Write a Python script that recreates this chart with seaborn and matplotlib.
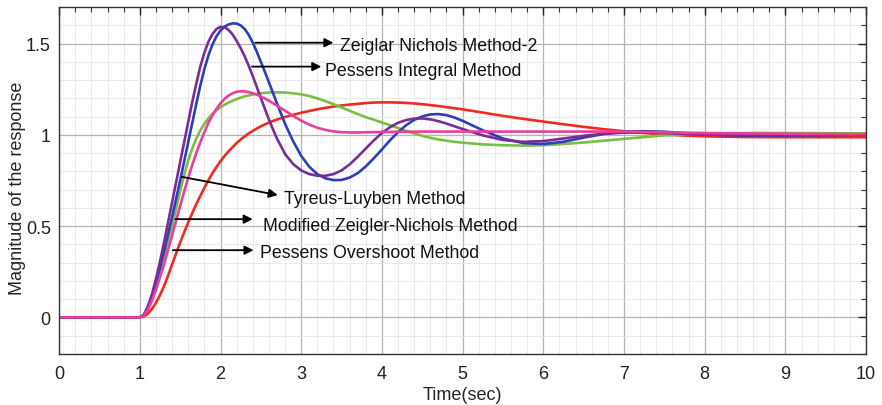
import numpy as np
import pandas as pd
import matplotlib
matplotlib.use("Agg")
import matplotlib.pyplot as plt
from matplotlib.ticker import MultipleLocator, FuncFormatter
import seaborn as sns

# Sample times (s)
time = [0.0, 1.0, 1.05, 1.1, 1.15, 1.2, 1.25, 1.3, 1.35, 1.4, 1.45, 1.5, 1.55, 1.6, 1.65,
        1.7, 1.75, 1.8, 1.85, 1.9, 1.95, 2.0, 2.05, 2.1, 2.15, 2.2, 2.25, 2.3, 2.35,
        2.4, 2.45, 2.5, 2.55, 2.6, 2.65, 2.7,
        2.8, 2.9, 3.0, 3.1, 3.2, 3.3, 3.4, 3.5, 3.6, 3.7, 3.8, 3.9, 4.0, 4.1, 4.2,
        4.3, 4.4, 4.5, 4.6, 4.7, 4.8, 4.9, 5.0,
        5.25, 5.5, 5.75, 6.0, 6.25, 6.5, 6.75, 7.0, 7.25, 7.5, 7.75, 8.0,
        8.5, 9.0, 9.5, 10.0]

# Step responses of each tuning
zn2 = [0, 0, 0.012, 0.05, 0.11, 0.19, 0.27, 0.36, 0.455, 0.55, 0.65, 0.75, 0.855, 0.96, 1.065,
       1.17, 1.27, 1.36, 1.435, 1.495, 1.54, 1.572, 1.593, 1.605, 1.611, 1.61, 1.6, 1.58, 1.548,
       1.505, 1.455, 1.40, 1.345, 1.288, 1.23, 1.172,
       1.06, 0.965, 0.885, 0.825, 0.785, 0.762, 0.752, 0.753, 0.766, 0.79, 0.827, 0.872, 0.92, 0.97, 1.015,
       1.053, 1.082, 1.101, 1.112, 1.114, 1.108, 1.095, 1.077,
       1.025, 0.98, 0.955, 0.95, 0.962, 0.985, 1.005, 1.017, 1.02, 1.017, 1.01, 1.003,
       0.996, 0.996, 0.999, 1.001]

pessens_integral = [0, 0, 0.015, 0.06, 0.125, 0.21, 0.305, 0.41, 0.52, 0.63, 0.74, 0.85, 0.96, 1.07, 1.18,
                    1.28, 1.375, 1.45, 1.51, 1.552, 1.58, 1.592, 1.59, 1.575, 1.55, 1.515, 1.475, 1.43, 1.378,
                    1.322, 1.262, 1.202, 1.142, 1.085, 1.03, 0.98,
                    0.895, 0.84, 0.805, 0.785, 0.776, 0.776, 0.785, 0.805, 0.838, 0.88, 0.925, 0.97, 1.01, 1.042, 1.066,
                    1.081, 1.089, 1.09, 1.085, 1.075, 1.062, 1.047, 1.032,
                    0.997, 0.972, 0.962, 0.966, 0.98, 0.995, 1.006, 1.012, 1.013, 1.01, 1.005, 1.001,
                    0.997, 0.998, 1.0, 1.001]

tyreus_luyben = [0, 0, 0.01, 0.04, 0.09, 0.15, 0.22, 0.29, 0.37, 0.45, 0.53, 0.61, 0.69, 0.765, 0.835,
                 0.9, 0.96, 1.015, 1.065, 1.107, 1.143, 1.173, 1.197, 1.215, 1.228, 1.236, 1.239, 1.238, 1.234,
                 1.228, 1.22, 1.21, 1.199, 1.187, 1.174, 1.16,
                 1.132, 1.104, 1.078, 1.056, 1.039, 1.027, 1.019, 1.015, 1.013, 1.013, 1.014, 1.015, 1.016, 1.016, 1.017,
                 1.017, 1.017, 1.018, 1.018, 1.018, 1.018, 1.018, 1.018,
                 1.018, 1.018, 1.018, 1.018, 1.018, 1.018, 1.018, 1.018, 1.016, 1.014, 1.012, 1.01,
                 1.008, 1.006, 1.005, 1.004]

modified_zn = [0, 0, 0.012, 0.05, 0.11, 0.18, 0.26, 0.34, 0.42, 0.5, 0.595, 0.69, 0.78, 0.86, 0.925,
               0.98, 1.025, 1.06, 1.09, 1.115, 1.135, 1.152, 1.165, 1.177, 1.187, 1.196, 1.204, 1.211, 1.216,
               1.221, 1.225, 1.228, 1.23, 1.232, 1.233, 1.233,
               1.232, 1.228, 1.222, 1.213, 1.2, 1.185, 1.168, 1.15, 1.132, 1.114, 1.097, 1.083, 1.068, 1.053, 1.037,
               1.022, 1.008, 0.995, 0.984, 0.975, 0.968, 0.962, 0.957,
               0.948, 0.943, 0.941, 0.943, 0.95, 0.958, 0.968, 0.978, 0.988, 0.997, 1.003, 1.007,
               1.01, 1.01, 1.009, 1.008]

pessens_overshoot = [0, 0, 0.005, 0.02, 0.045, 0.08, 0.122, 0.17, 0.228, 0.29, 0.35, 0.41, 0.466, 0.52, 0.571,
                     0.62, 0.666, 0.71, 0.751, 0.79, 0.824, 0.856, 0.884, 0.91, 0.933, 0.955, 0.974, 0.992, 1.008,
                     1.022, 1.035, 1.047, 1.057, 1.067, 1.076, 1.084,
                     1.098, 1.11, 1.121, 1.131, 1.14, 1.148, 1.155, 1.161, 1.166, 1.17, 1.174, 1.177, 1.178, 1.178, 1.177,
                     1.175, 1.172, 1.168, 1.163, 1.158, 1.152, 1.146, 1.14,
                     1.122, 1.104, 1.088, 1.073, 1.058, 1.044, 1.031, 1.02, 1.01, 1.002, 0.996, 0.992,
                     0.988, 0.987, 0.987, 0.987]

methods = ["Pessens Overshoot Method", "Modified Zeigler-Nichols Method",
           "Zeiglar Nichols Method-2", "Pessens Integral Method", "Tyreus-Luyben Method"]
responses = [pessens_overshoot, modified_zn, zn2, pessens_integral, tyreus_luyben]
colors = ["#f02a20", "#77c043", "#2c3fb8", "#7a2d96", "#ec3c9c"]

df = pd.concat(
    [pd.DataFrame({"Time": time, "Value": vals, "Method": name})
     for name, vals in zip(methods, responses)],
    ignore_index=True)

sns.set_style("white")
plt.rcParams["font.family"] = ["Liberation Sans", "DejaVu Sans"]

fig = plt.figure(figsize=(8.82, 4.06), dpi=100)
ax = fig.add_axes([0.067, 0.126, 0.915, 0.854])

sns.lineplot(data=df, x="Time", y="Value", hue="Method", hue_order=methods,
             palette=dict(zip(methods, colors)), linewidth=1.9, legend=False,
             estimator=None, sort=False, ax=ax)

ax.set_xlim(0, 10)
ax.set_ylim(-0.2, 1.7)
ax.xaxis.set_major_locator(MultipleLocator(1))
ax.xaxis.set_minor_locator(MultipleLocator(0.2))
ax.yaxis.set_major_locator(MultipleLocator(0.5))
ax.yaxis.set_minor_locator(MultipleLocator(0.1))
ax.yaxis.set_major_formatter(FuncFormatter(lambda v, p: f"{v:g}"))

ax.grid(which="major", color="#b4b4b4", linewidth=0.9)
ax.grid(which="minor", color="#e6e6e6", linewidth=0.6)
ax.set_axisbelow(True)

ax.tick_params(which="both", direction="in", top=True, right=True, color="#333333")
ax.tick_params(which="major", length=6, width=1.0, labelsize=13, colors="#222222")
ax.tick_params(which="minor", length=3.5, width=0.8)
ax.tick_params(axis="x", which="major", pad=8)
ax.tick_params(axis="y", which="major", pad=6)
for s in ax.spines.values():
    s.set_color("#333333")
    s.set_linewidth(1.0)

ax.set_xlabel("Time(sec)", fontsize=13, labelpad=3)
ax.set_ylabel("Magnitude of the response", fontsize=13)
ax.yaxis.set_label_coords(-0.041, 0.48)

# Arrow annotations naming each curve
notes = [
    ("Zeiglar Nichols Method-2", (2.43, 1.505), (3.40, 1.505), (3.48, 1.49)),
    ("Pessens Integral Method", (2.39, 1.374), (3.25, 1.374), (3.29, 1.35)),
    ("Tyreus-Luyben Method", (1.52, 0.77), (2.71, 0.67), (2.79, 0.652)),
    ("Modified Zeigler-Nichols Method", (1.44, 0.538), (2.40, 0.538), (2.53, 0.505)),
    ("Pessens Overshoot Method", (1.41, 0.368), (2.41, 0.368), (2.49, 0.357)),
]
for label, start, end, txt in notes:
    ax.annotate("", xy=end, xytext=start,
                arrowprops=dict(arrowstyle="-|>", color="black", lw=1.3,
                                mutation_scale=13, shrinkA=0, shrinkB=0))
    ax.text(txt[0], txt[1], label, fontsize=12.8, ha="left", va="center", color="#111111")

fig.savefig("out.png", dpi=100)
